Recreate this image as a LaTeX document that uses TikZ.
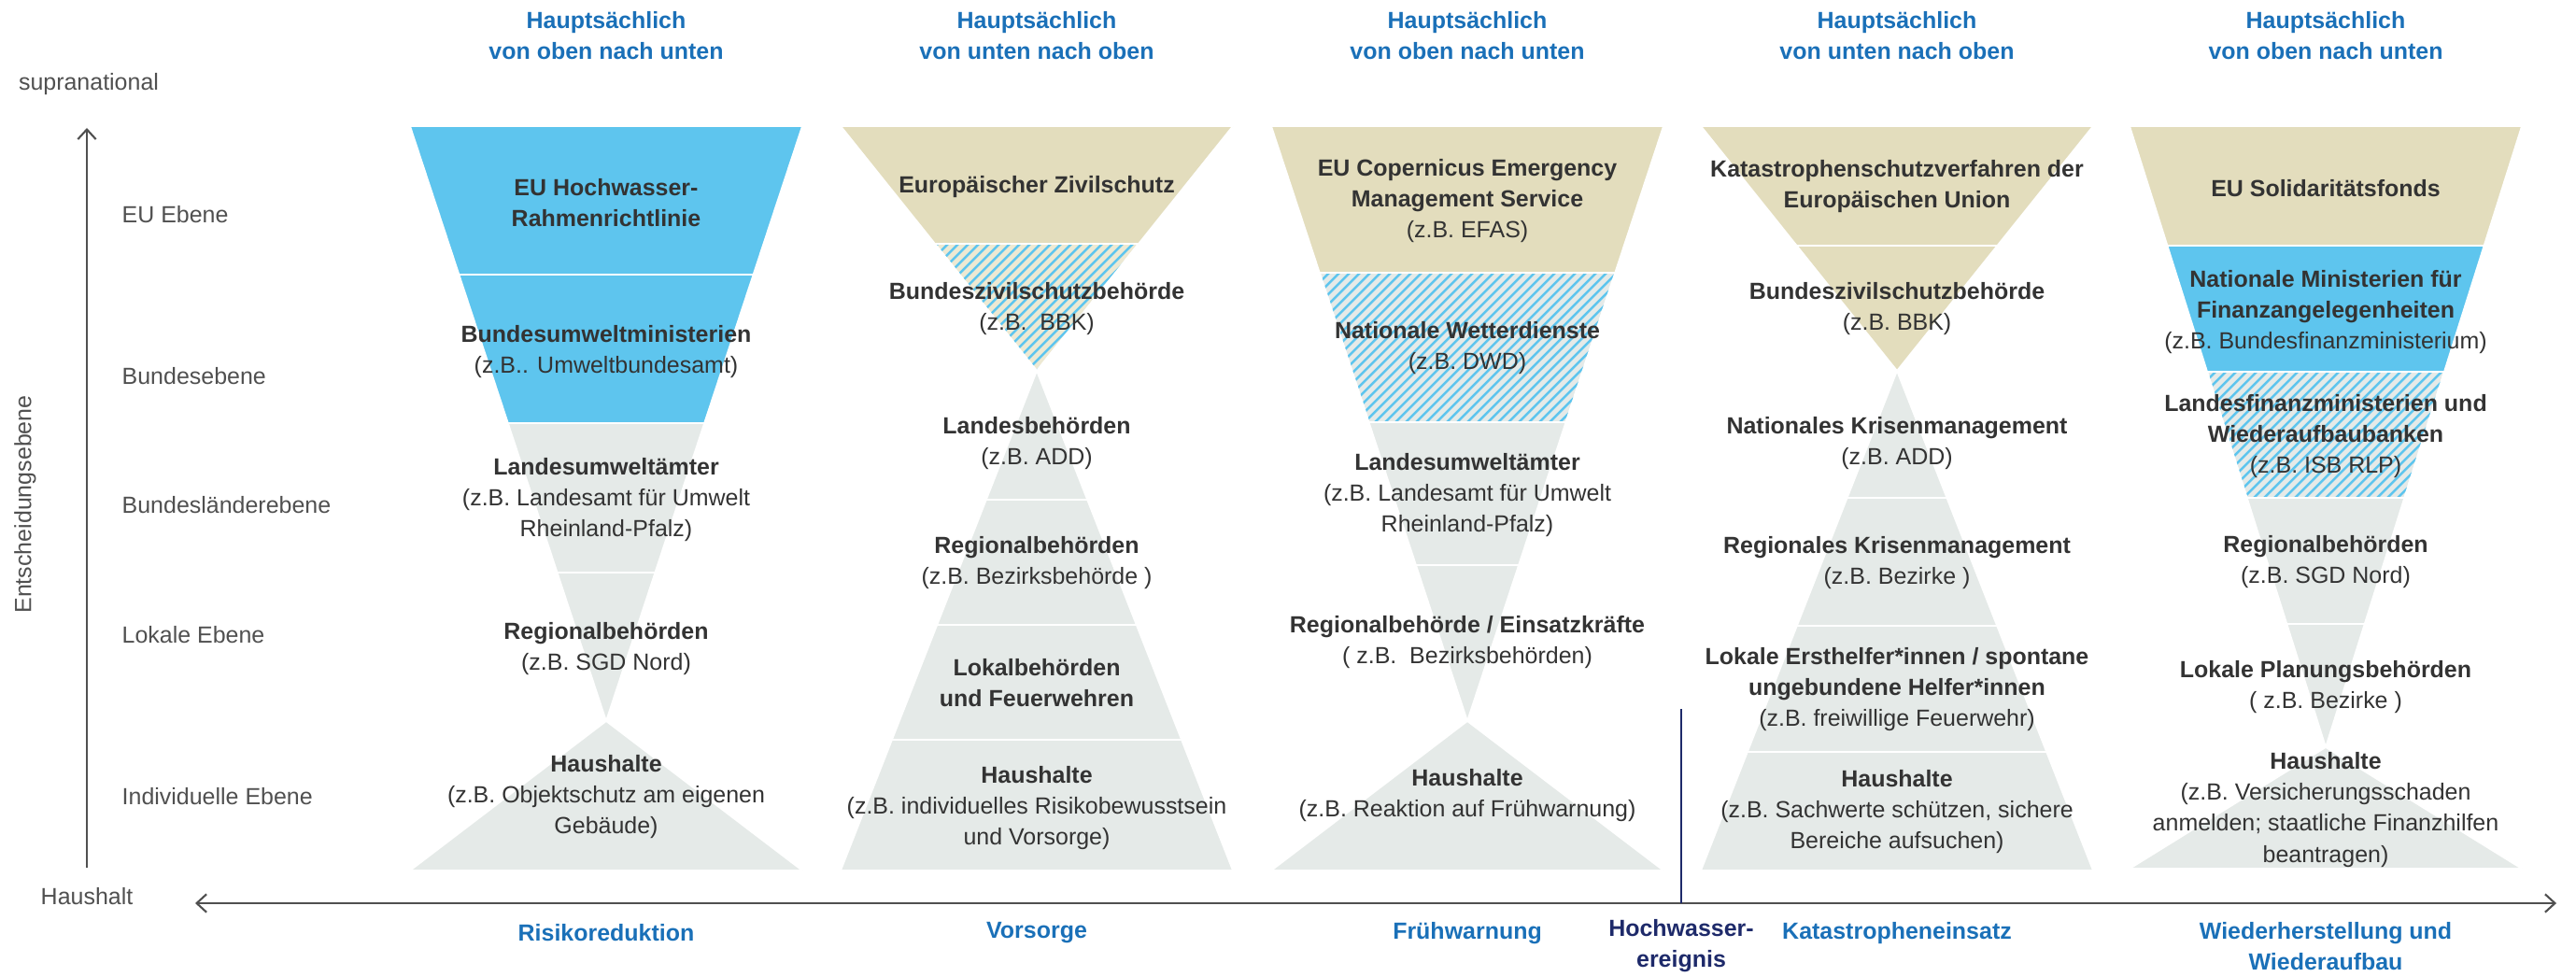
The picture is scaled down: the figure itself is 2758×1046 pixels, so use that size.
\documentclass[tikz,border=0pt]{standalone}
\usepackage{fontspec}
\setmainfont{Liberation Sans}
\usetikzlibrary{arrows.meta}
\definecolor{funnelblue}{HTML}{5EC5EE}
\definecolor{funneltan}{HTML}{E3DDBD}
\definecolor{funneltanlight}{HTML}{EDE9D3}
\definecolor{funnelgray}{HTML}{E5EAE8}
\definecolor{headblue}{HTML}{1A70B8}
\definecolor{eventblue}{HTML}{1E2A6A}
\definecolor{textdark}{HTML}{333333}
\definecolor{axisgray}{HTML}{505050}

\begin{document}
\begin{tikzpicture}[x=0.01cm, y=-0.01cm,
    bluepart/.style={fill=funnelblue, draw=white, line width=0.5pt},
    tanpart/.style={fill=funneltan, draw=white, line width=0.5pt},
    tanlight/.style={fill=funneltanlight, draw=white, line width=0.5pt},
    graypart/.style={fill=funnelgray, draw=white, line width=0.5pt},
    stripe/.style={draw=funnelblue, line width=0.7pt},
    sepline/.style={draw=white, line width=0.5pt},
    lbl/.style={font=\fontsize{7.1pt}{9.4pt}\selectfont, text=textdark, align=center, inner sep=0pt},
    lvl/.style={font=\fontsize{7.1pt}{9.4pt}\selectfont, text=axisgray, inner sep=0pt},
    head/.style={font=\fontsize{7.1pt}{9.4pt}\selectfont\bfseries, text=headblue, align=center, inner sep=0pt},
    axis/.style={draw=axisgray, line width=0.6pt},
    eventline/.style={draw=eventblue, line width=0.6pt}]
    \useasboundingbox (0,0) rectangle (2758,1046);

    % funnel segments: centre / apex / far end / from / to / look
    \foreach \cx/\ya/\yf/\yi/\yj/\col in {
        % Risikoreduktion
        649/772/135/135/294/bluepart, 649/772/135/294/453/bluepart,
        649/772/135/453/613/graypart, 649/772/135/613/772/graypart,
        649/772/932/772/932/graypart,
        % Vorsorge
        1110/397/135/135/261/tanpart, 1110/397/135/261/397/tanlight,
        1110/397/932/397/535/graypart, 1110/397/932/535/669/graypart,
        1110/397/932/669/792/graypart, 1110/397/932/792/932/graypart,
        % Fruehwarnung
        1571/772/135/135/292/tanpart, 1571/772/135/292/452/graypart,
        1571/772/135/452/605/graypart, 1571/772/135/605/772/graypart,
        1571/772/932/772/932/graypart,
        % Katastropheneinsatz
        2031/397/135/135/263/tanpart, 2031/397/135/263/397/tanpart,
        2031/397/932/397/533/graypart, 2031/397/932/533/670/graypart,
        2031/397/932/670/805/graypart, 2031/397/932/805/932/graypart,
        % Wiederaufbau
        2490/800/135/135/263/tanpart, 2490/800/135/263/398/bluepart,
        2490/800/135/398/533/graypart, 2490/800/135/533/668/graypart,
        2490/800/135/668/800/graypart, 2490/800/930/800/930/graypart} {
        \pgfmathsetmacro\wi{210/(\yf-\ya)*(\yi-\ya)}
        \pgfmathsetmacro\wj{210/(\yf-\ya)*(\yj-\ya)}
        \fill[\col] (\cx-\wi,\yi) -- (\cx+\wi,\yi) -- (\cx+\wj,\yj) -- (\cx-\wj,\yj) -- cycle;
    }

    % striped segments
    \foreach \cx/\ya/\yf/\yi/\yj in {1110/397/135/261/397, 1571/772/135/292/452, 2490/800/135/398/533} {
        \pgfmathsetmacro\wi{210/(\yf-\ya)*(\yi-\ya)}
        \pgfmathsetmacro\wj{210/(\yf-\ya)*(\yj-\ya)}
        \begin{scope}
            \clip (\cx-\wi,\yi) -- (\cx+\wi,\yi) -- (\cx+\wj,\yj) -- (\cx-\wj,\yj) -- cycle;
            \foreach \s in {-30,...,30}
                \draw[stripe] (\cx+11*\s-170,\yj+170) -- ++(340,-340);
        \end{scope}
        \draw[sepline] (\cx-\wi,\yi) -- (\cx+\wi,\yi) -- (\cx+\wj,\yj) -- (\cx-\wj,\yj) -- cycle;
    }

    % column headings
    \foreach \cx/\dir [count=\i] in {649/von oben nach unten, 1110/von unten nach oben,
        1571/von oben nach unten, 2031/von unten nach oben, 2490/von oben nach unten}
        \node[head] (head\i) at (\cx,38) {Hauptsächlich\\\dir};

    % decision levels
    \node[lvl] (supra) at (95,90) {supranational};
    \node[lvl] (hh) at (93,960) {Haushalt};
    \node[lvl, rotate=90] (ebene) at (27,540) {Entscheidungsebene};
    \foreach \y/\name [count=\i] in {230/EU Ebene, 403/Bundesebene, 541/Bundesländerebene,
        680/Lokale Ebene, 853/Individuelle Ebene}
        \node[lvl, anchor=west] (lvl\i) at (130,\y) {\name};

    % Risikoreduktion
    \node[lbl] (c1a) at (649,217) {\textbf{EU Hochwasser-}\\\textbf{Rahmenrichtlinie}};
    \node[lbl] (c1b) at (649,377) {\textbf{Bundesumweltministerien}\\(z.B.. Umweltbundesamt)};
    \node[lbl] (c1c) at (649,535) {\textbf{Landesumweltämter}\\(z.B. Landesamt für Umwelt\\Rheinland-Pfalz)};
    \node[lbl] (c1d) at (649,695) {\textbf{Regionalbehörden}\\(z.B. SGD Nord)};
    \node[lbl] (c1e) at (649,853) {\textbf{Haushalte}\\(z.B. Objektschutz am eigenen\\Gebäude)};

    % Vorsorge
    \node[lbl] (c2a) at (1110,200) {\textbf{Europäischer Zivilschutz}};
    \node[lbl] (c2b) at (1110,331) {\textbf{Bundeszivilschutzbehörde}\\(z.B.\ \ BBK)};
    \node[lbl] (c2c) at (1110,475) {\textbf{Landesbehörden}\\(z.B. ADD)};
    \node[lbl] (c2d) at (1110,603) {\textbf{Regionalbehörden}\\(z.B. Bezirksbehörde )};
    \node[lbl] (c2e) at (1110,731) {\textbf{Lokalbehörden}\\\textbf{und Feuerwehren}};
    \node[lbl] (c2f) at (1110,865) {\textbf{Haushalte}\\(z.B. individuelles Risikobewusstsein\\und Vorsorge)};

    % Fruehwarnung
    \node[lbl] (c3a) at (1571,215) {\textbf{EU Copernicus Emergency}\\\textbf{Management Service}\\(z.B. EFAS)};
    \node[lbl] (c3b) at (1571,373) {\textbf{Nationale Wetterdienste}\\(z.B. DWD)};
    \node[lbl] (c3c) at (1571,530) {\textbf{Landesumweltämter}\\(z.B. Landesamt für Umwelt\\Rheinland-Pfalz)};
    \node[lbl] (c3d) at (1571,688) {\textbf{Regionalbehörde / Einsatzkräfte}\\( z.B.\ \ Bezirksbehörden)};
    \node[lbl] (c3e) at (1571,852) {\textbf{Haushalte}\\(z.B. Reaktion auf Frühwarnung)};

    % Katastropheneinsatz
    \node[lbl] (c4a) at (2031,200) {\textbf{Katastrophenschutzverfahren der}\\\textbf{Europäischen Union}};
    \node[lbl] (c4b) at (2031,331) {\textbf{Bundeszivilschutzbehörde}\\(z.B. BBK)};
    \node[lbl] (c4c) at (2031,475) {\textbf{Nationales Krisenmanagement}\\(z.B. ADD)};
    \node[lbl] (c4d) at (2031,603) {\textbf{Regionales Krisenmanagement}\\(z.B. Bezirke )};
    \node[lbl] (c4e) at (2031,738) {\textbf{Lokale Ersthelfer*innen / spontane}\\\textbf{ungebundene Helfer*innen}\\(z.B. freiwillige Feuerwehr)};
    \node[lbl] (c4f) at (2031,869) {\textbf{Haushalte}\\(z.B. Sachwerte schützen, sichere\\Bereiche aufsuchen)};

    % Wiederaufbau
    \node[lbl] (c5a) at (2490,202) {\textbf{EU Solidaritätsfonds}};
    \node[lbl] (c5b) at (2490,334) {\textbf{Nationale Ministerien für}\\\textbf{Finanzangelegenheiten}\\(z.B. Bundesfinanzministerium)};
    \node[lbl] (c5c) at (2490,467) {\textbf{Landesfinanzministerien und}\\\textbf{Wiederaufbaubanken}\\(z.B. ISB RLP)};
    \node[lbl] (c5d) at (2490,602) {\textbf{Regionalbehörden}\\(z.B. SGD Nord)};
    \node[lbl] (c5e) at (2490,736) {\textbf{Lokale Planungsbehörden}\\( z.B. Bezirke )};
    \node[lbl] (c5f) at (2490,867) {\textbf{Haushalte}\\(z.B. Versicherungsschaden\\anmelden; staatliche Finanzhilfen\\beantragen)};

    % phases
    \node[head] (ph1) at (649,999) {Risikoreduktion};
    \node[head] (ph2) at (1110,999) {Vorsorge};
    \node[head] (ph3) at (1571,999) {Frühwarnung};
    \node[head, text=eventblue] (event) at (1800,1013) {Hochwasser-\\ereignis};
    \node[head] (ph4) at (2031,999) {Katastropheneinsatz};
    \node[head] (ph5) at (2490,1013) {Wiederherstellung und\\Wiederaufbau};

    % axes
    \coordinate (vbot) at (93,929);
    \coordinate (vtop) at (93,137);
    \coordinate (hleft) at (209,967);
    \coordinate (hright) at (2737,967);
    \coordinate (evtop) at (1800,759);
    \coordinate (evbot) at (1800,967);
    \draw[axis, -{Straight Barb[length=3pt, width=5.5pt]}] (vbot) -- (vtop);
    \draw[axis, {Straight Barb[length=3pt, width=5.5pt]}-{Straight Barb[length=3pt, width=5.5pt]}] (hleft) -- (hright);
    \draw[eventline] (evtop) -- (evbot);
\end{tikzpicture}
\end{document}
